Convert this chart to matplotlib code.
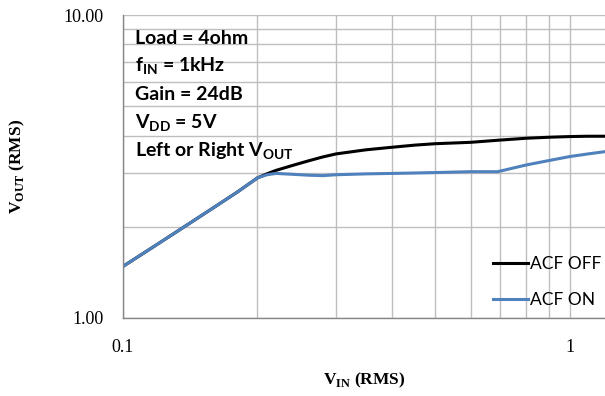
import numpy as np
import matplotlib
matplotlib.use("Agg")
import matplotlib.pyplot as plt
from matplotlib.ticker import FixedLocator, FixedFormatter, NullFormatter, LogLocator

# Data
vin = [0.1, 0.12, 0.14, 0.16, 0.18, 0.2, 0.21, 0.22, 0.24, 0.26, 0.28, 0.3, 0.35,
       0.4, 0.45, 0.5, 0.6, 0.69, 0.8, 0.9, 1.0, 1.1, 1.2]
vout_acf_off = [1.48, 1.76, 2.04, 2.32, 2.60, 2.90, 2.99, 3.07, 3.19, 3.30, 3.40, 3.48, 3.59,
                3.66, 3.72, 3.76, 3.80, 3.86, 3.92, 3.95, 3.97, 3.98, 3.98]
vout_acf_on = [1.48, 1.76, 2.04, 2.32, 2.60, 2.90, 2.97, 3.00, 2.98, 2.96, 2.95, 2.97, 2.99,
               3.00, 3.01, 3.02, 3.04, 3.04, 3.20, 3.31, 3.41, 3.48, 3.54]
series_labels = ["ACF OFF", "ACF ON"]
notes = ["Load = 4ohm",
         r"f$_{\mathsf{IN}}$ = 1kHz",
         "Gain = 24dB",
         r"V$_{\mathsf{DD}}$ = 5V",
         r"Left or Right V$_{\mathsf{OUT}}$"]
xtick_vals = [0.1, 1]
xtick_labels = ["0.1", "1"]
ytick_vals = [1, 10]
ytick_labels = ["1.00", "10.00"]

plt.rcParams["mathtext.fontset"] = "custom"
plt.rcParams["mathtext.sf"] = "Lato:bold"
plt.rcParams["mathtext.rm"] = "Liberation Serif:bold"

fig = plt.figure(figsize=(6.05, 3.96), dpi=100)
ax = fig.add_axes([123 / 605, 1 - 318 / 396, 1 - 123 / 605, (318 - 15) / 396])

ax.plot(vin, vout_acf_off, color="black", lw=2.2, label=series_labels[0])
ax.plot(vin, vout_acf_on, color="#4F81BD", lw=2.2, label=series_labels[1])

ax.set_xscale("log")
ax.set_yscale("log")
ax.set_xlim(0.1, 1.2)
ax.set_ylim(1, 10)

ax.xaxis.set_major_locator(FixedLocator(xtick_vals))
ax.xaxis.set_major_formatter(FixedFormatter(xtick_labels))
ax.yaxis.set_major_locator(FixedLocator(ytick_vals))
ax.yaxis.set_major_formatter(FixedFormatter(ytick_labels))
ax.xaxis.set_minor_locator(LogLocator(base=10, subs=np.arange(2, 10)))
ax.yaxis.set_minor_locator(LogLocator(base=10, subs=np.arange(2, 10)))
ax.xaxis.set_minor_formatter(NullFormatter())
ax.yaxis.set_minor_formatter(NullFormatter())

ax.grid(True, which="both", color="#BEBEBE", lw=1.0)
ax.set_axisbelow(True)
ax.tick_params(which="both", length=0)
ax.tick_params(axis="x", pad=15, labelsize=13)
ax.tick_params(axis="y", pad=14, labelsize=13)
for lab in ax.get_xticklabels() + ax.get_yticklabels():
    lab.set_family("Liberation Serif")

for side in ["top", "right"]:
    ax.spines[side].set_visible(False)
for side in ["left", "bottom"]:
    ax.spines[side].set_color("#868686")
    ax.spines[side].set_linewidth(1.0)

ax.set_xlabel(r"V$_{\mathrm{IN}}$ (RMS)", family="Liberation Serif",
              fontweight="bold", fontsize=12.5)
ax.set_ylabel(r"V$_{\mathrm{OUT}}$ (RMS)", family="Liberation Serif",
              fontweight="bold", fontsize=12.5)
ax.xaxis.set_label_coords(0.5, -0.175)
ax.yaxis.set_label_coords(-0.2, 0.5)

for i, t in enumerate(notes):
    fig.text(135 / 605, 1 - (38 + 28.3 * i) / 396, t, family="Lato",
             fontweight="bold", fontsize=14, va="center", ha="left")

leg = ax.legend(loc="lower right", bbox_to_anchor=(1.025, -0.018), frameon=False,
                prop={"family": "Lato", "size": 12.5}, handlelength=2.0,
                handletextpad=0.15, labelspacing=1.15)

fig.savefig("out.png", dpi=100)
